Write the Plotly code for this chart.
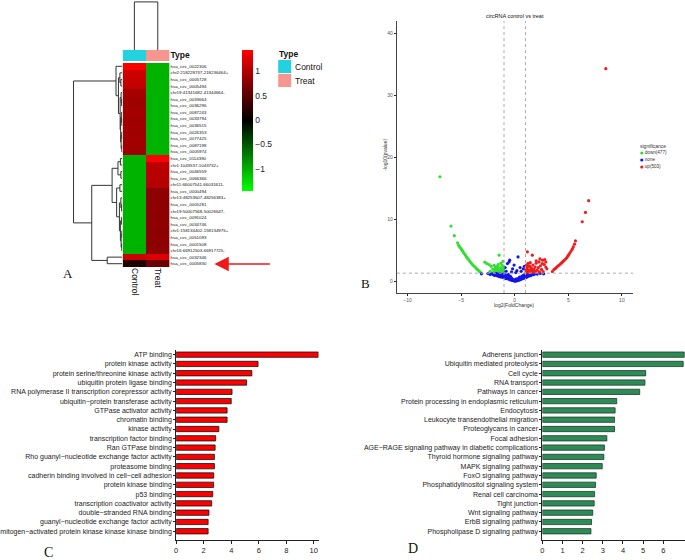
import math
import plotly.graph_objects as go

W, H = 685, 560
def fx(p): return p / W
def fy(p): return 1 - p / H

FONT = "Liberation Sans"
SERIF = "Liberation Serif"

# ---------------- Panel A data ----------------
heat_labels = [
    "hsa_circ_0022306", "chr2:218228737-218236464+", "hsa_circ_0005728", "hsa_circ_0005494",
    "chr19:41341682-41344664-", "hsa_circ_0033664", "hsa_circ_0036296", "hsa_circ_0087243",
    "hsa_circ_0033794", "hsa_circ_0036515", "hsa_circ_0026353", "hsa_circ_0077425",
    "hsa_circ_0087198", "hsa_circ_0005974", "hsa_circ_0114390", "chr1:1043537-1043732+",
    "hsa_circ_0046559", "hsa_circ_0066366", "chr11:66007541-66031611-", "hsa_circ_0000494",
    "chr13:48253607-48256383+", "hsa_circ_0005281", "chr19:50007568-50026647-", "hsa_circ_0091024",
    "hsa_circ_0034746", "chr1:158134402-158134975+", "hsa_circ_0051093", "hsa_circ_0001508",
    "chr16:66912503-66917725-", "hsa_circ_0032346", "hsa_circ_0005830",
]
heat_control = [1.40, 1.14, 1.12, 1.08, 0.92, 0.90, 0.88, 0.92, 0.88, 0.90, 0.89, 0.92, 0.88, 0.90,
                -1.02, -1.02, -1.02, -1.02, -1.02, -1.02, -1.02, -1.02, -1.02, -1.02, -1.02, -1.02,
                -1.02, -1.02, -1.02, 1.14, 0.18]
heat_treat = [-1.02, -1.02, -1.02, -1.02, -1.02, -1.02, -1.02, -1.02, -1.02, -1.02, -1.02, -1.02,
              -1.02, -1.02, 1.43, 1.05, 1.03, 1.03, 1.00, 0.80, 0.80, 0.78, 0.80, 0.78, 0.80, 0.78,
              0.80, 0.78, 0.80, 1.24, 0.60]
heat_columns = ["Control", "Treat"]
type_colors = ["#22D3DF", "#F7968E"]
col_merge_height = 1.0
# row dendrogram: (height, left, right); leaves are row numbers
row_tree = (10.0,
            (1.3, 1, (0.8, (0.5, 2, (0.3, 3, 4)),
                      (0.45, (0.25, 5, (0.15, 6, 7)),
                       (0.35, (0.2, 8, (0.1, 9, 10)), (0.25, (0.12, 11, 12), (0.1, 13, 14)))))),
            (6.27,
             (2.1, (0.9, (0.4, 15, 16), (0.3, 17, 18)),
              (1.17, (0.5, 19, 20),
               (0.6, (0.3, 21, (0.15, 22, 23)),
                (0.4, (0.2, 24, 25), (0.25, (0.1, 26, 27), (0.12, 28, 29)))))),
             (3.1, 30, 31)))

# ---------------- Panel B data ----------------
down_x = [-6.98, -5.95, -5.64, -5.33, -5.24, -5.12, -5.02, -4.95, -4.87, -4.79, -4.71, -4.60, -4.50,
          -4.41, -4.31, -4.20, -4.09, -3.98, -3.88, -3.75, -3.63, -3.52, -3.41, -3.28, -3.16,
          -2.79, -2.60, -2.39, -2.20, -1.92, -1.46, -1.61, -1.75, -1.85, -2.05, -1.50, -1.35, -1.20,
          -1.10, -1.25, -1.40, -1.60, -1.05, -1.15, -1.30, -1.70, -1.95, -2.30, -1.55, -1.05, -1.45,
          -1.20, -1.80, -2.10, -1.12, -1.38, -1.65, -1.02]
down_y = [16.86, 8.90, 7.35, 6.20, 5.80, 5.50, 5.28, 5.05, 4.90, 4.68, 4.47, 4.20, 3.93,
          3.72, 3.50, 3.25, 3.00, 2.78, 2.58, 2.36, 2.15, 1.96, 1.78, 1.58, 1.40,
          3.07, 2.85, 2.70, 2.40, 2.58, 4.20, 2.40, 2.10, 1.80, 1.95, 1.90, 2.20, 2.60,
          3.20, 1.70, 1.50, 1.45, 1.90, 1.40, 2.90, 1.60, 1.45, 1.60, 2.70, 2.40, 1.35,
          2.00, 2.30, 1.35, 1.55, 1.75, 2.05, 1.62]
none_x = [-3.10, -2.50, -2.30, -2.10, -2.00, -1.90, -1.80, -1.70, -1.65, -1.55, -1.50, -1.45, -1.40,
          -1.35, -1.30, -1.25, -1.20, -1.15, -1.10, -1.05, -1.00, -0.95, -0.90, -0.85, -0.80, -0.75,
          -0.70, -0.65, -0.60, -0.55, -0.50, -0.45, -0.40, -0.35, -0.30, -0.25, -0.20, -0.15, -0.10,
          -0.05, 0.00, 0.05, 0.10, 0.15, 0.20, 0.25, 0.30, 0.35, 0.40, 0.45, 0.50, 0.55, 0.60, 0.65,
          0.70, 0.75, 0.80, 0.85, 0.90, 0.95, 1.00, 1.05, 1.10, 1.15, 1.20, 1.30, 1.40, 1.50, 1.60,
          1.75, 1.90, 2.10, 2.40, 2.70, -0.90, -0.68, -0.53, -0.47, -0.06, 0.31, 0.20, -0.30, 0.60,
          0.80, -0.80, 0.90, 0.50, -0.20, 0.10, -1.60, -1.20, -0.85, -0.55, -0.25, 0.05, 0.35, 0.65,
          0.95, 1.25, 1.55, -1.75, -1.00, 0.15, 0.45, 0.75, -0.35, -0.65, 1.35, 1.05]
none_y = [1.20, 1.25, 1.10, 1.20, 1.05, 0.95, 1.15, 0.90, 1.20, 0.85, 1.05, 0.75, 1.20,
          0.95, 0.70, 1.10, 0.80, 0.65, 1.00, 0.60, 1.20, 0.75, 0.50, 1.05, 0.45, 0.85,
          0.40, 0.65, 1.10, 0.35, 0.55, 0.25, 0.80, 0.20, 0.45, 0.15, 0.30, 0.10, 0.20,
          0.05, 0.10, 0.02, 0.12, 0.05, 0.18, 0.10, 0.25, 0.15, 0.35, 0.20, 0.50, 0.30, 0.70, 0.35,
          0.55, 0.90, 0.45, 0.75, 1.10, 0.55, 0.80, 0.60, 1.00, 0.70, 1.20, 0.80, 1.00, 0.90, 1.15,
          1.05, 1.20, 1.15, 1.25, 1.20, 2.20, 2.85, 3.10, 3.40, 2.60, 3.93, 1.70, 1.50, 1.60,
          2.00, 1.60, 2.40, 2.20, 2.00, 1.40, 1.00, 1.05, 0.80, 0.60, 0.40, 0.25, 0.45, 0.55,
          0.85, 1.00, 1.10, 1.25, 0.90, 0.40, 0.65, 0.65, 0.60, 0.95, 1.05, 0.95]
up_x = [3.51, 3.66, 3.78, 3.88, 4.00, 4.12, 4.25, 4.37, 4.48, 4.59, 4.72, 4.84, 4.95, 5.05, 5.15,
        5.27, 5.38, 5.46, 5.58, 5.67, 6.30, 6.60, 6.90, 8.50,
        1.18, 1.64, 2.26, 2.57, 2.80, 2.75, 2.60, 2.40, 2.20, 2.00, 1.90, 1.80, 1.70, 1.60, 1.50,
        1.40, 1.30, 1.25, 1.15, 1.10, 1.05, 1.20, 1.35, 1.45, 1.55, 1.75, 1.95, 2.10, 2.30, 2.50,
        2.65, 2.90, 3.00, 1.10, 1.02, 1.25, 1.45, 2.00, 2.35, 2.90, 1.08, 1.30, 1.60, 1.15, 1.40]
up_y = [1.57, 1.89, 2.05, 2.21, 2.40, 2.58, 2.78, 2.96, 3.15, 3.34, 3.55, 3.77, 4.05, 4.30, 4.60,
        4.90, 5.20, 5.54, 5.98, 6.50, 9.60, 11.10, 13.00, 34.30,
        4.74, 4.20, 3.12, 2.85, 3.50, 2.70, 3.40, 2.50, 2.20, 2.90, 2.30, 1.90, 2.60, 1.70, 2.20,
        1.80, 2.50, 1.50, 2.00, 1.60, 1.40, 1.80, 1.40, 1.55, 1.90, 1.45, 1.60, 1.80, 1.50, 1.90,
        1.55, 2.30, 2.00, 2.60, 1.90, 2.90, 3.00, 3.30, 3.60, 3.10, 1.70, 1.65, 2.05, 2.25, 2.45]
volcano_groups = ["down(477)", "none", "up(503)"]
volcano_colors = ["#33DD33", "#1515E8", "#EE1C1C"]
fc_cutoff = 1.0
p_cutoff = 0.05

# ---------------- Panel C data ----------------
go_terms = ["ATP binding", "protein kinase activity", "protein serine/threonine kinase activity",
            "ubiquitin protein ligase binding", "RNA polymerase II transcription corepressor activity",
            "ubiquitin\u2212protein transferase activity", "GTPase activator activity", "chromatin binding",
            "kinase activity", "transcription factor binding", "Ran GTPase binding",
            "Rho guanyl\u2212nucleotide exchange factor activity", "proteasome binding",
            "cadherin binding involved in cell\u2212cell adhesion", "protein kinase binding", "p53 binding",
            "transcription coactivator activity", "double\u2212stranded RNA binding",
            "guanyl\u2212nucleotide exchange factor activity",
            "mitogen\u2212activated protein kinase kinase kinase binding"]
go_values = [10.33, 5.95, 5.50, 5.12, 4.06, 4.00, 3.70, 3.70, 3.10, 2.87, 2.83, 2.78, 2.78, 2.73,
             2.72, 2.66, 2.58, 2.38, 2.32, 2.32]

# ---------------- Panel D data ----------------
kegg_terms = ["Adherens junction", "Ubiquitin mediated proteolysis", "Cell cycle", "RNA transport",
              "Pathways in cancer", "Protein processing in endoplasmic reticulum", "Endocytosis",
              "Leukocyte transendothelial migration", "Proteoglycans in cancer", "Focal adhesion",
              "AGE\u2212RAGE signaling pathway in diabetic complications", "Thyroid hormone signaling pathway",
              "MAPK signaling pathway", "FoxO signaling pathway", "Phosphatidylinositol signaling system",
              "Renal cell carcinoma", "Tight junction", "Wnt signaling pathway", "ErbB signaling pathway",
              "Phospholipase D signaling pathway"]
kegg_values = [7.04, 6.99, 5.13, 5.09, 4.83, 3.69, 3.61, 3.58, 3.58, 3.20, 3.08, 3.05, 2.97, 2.67,
               2.64, 2.59, 2.57, 2.50, 2.44, 2.41]

fig = go.Figure()

# ---- A: heatmap ----
rows = list(range(1, len(heat_labels) + 1))
fig.add_trace(go.Heatmap(
    z=[[c, t] for c, t in zip(heat_control, heat_treat)], x=[0, 1], y=rows,
    colorscale=[[0, "#00FF00"], [0.5, "#000000"], [1, "#FF0000"]], zmin=-1.45, zmax=1.43,
    xaxis="x", yaxis="y", hoverinfo="skip",
    colorbar=dict(x=fx(241), xanchor="left", y=fy(120.5), yanchor="middle", len=141 / H,
                  lenmode="fraction", thickness=11, outlinewidth=0, xpad=0, ypad=0, ticks="",
                  tickvals=[-1, -0.5, 0, 0.5, 1], ticktext=["\u22121", "\u22120.5", "0", "0.5", "1"],
                  tickfont=dict(size=8.5, color="#222", family=FONT))))
fig.add_trace(go.Heatmap(
    z=[[0, 1]], x=[0, 1], y=[0], zmin=0, zmax=1, showscale=False, hoverinfo="skip",
    colorscale=[[0, type_colors[0]], [0.5, type_colors[0]], [0.5, type_colors[1]], [1, type_colors[1]]],
    xaxis="x2", yaxis="y2"))

# column dendrogram
fig.add_trace(go.Scatter(x=[0, 0, 1, 1], y=[0, col_merge_height, col_merge_height, 0], mode="lines",
                         line=dict(color="#333", width=1), xaxis="x3", yaxis="y3", hoverinfo="skip"))

# row dendrogram
dx, dy = [], []
def walk(node):
    if isinstance(node, int):
        return float(node), 0.0
    h, l, r = node
    yl, hl = walk(l)
    yr, hr = walk(r)
    dx.extend([hl, h, h, hr, None])
    dy.extend([yl, yl, yr, yr, None])
    return (yl + yr) / 2, h
walk(row_tree)
fig.add_trace(go.Scatter(x=dx, y=dy, mode="lines", line=dict(color="#333", width=1),
                         xaxis="x4", yaxis="y4", hoverinfo="skip"))

# ---- B: volcano ----
for gx, gy, col in [(down_x, down_y, volcano_colors[0]), (none_x, none_y, volcano_colors[1]),
                    (up_x, up_y, volcano_colors[2])]:
    fig.add_trace(go.Scatter(x=gx, y=gy, mode="markers", marker=dict(size=3.2, color=col),
                             xaxis="x5", yaxis="y5", hoverinfo="skip"))
fig.add_trace(go.Scatter(x=[0.08, 0.08, 0.08], y=[0, 1, 2], mode="markers+text",
                         marker=dict(size=3.2, color=volcano_colors), text=volcano_groups,
                         textposition="middle right", textfont=dict(size=4.6, color="#333"),
                         xaxis="x8", yaxis="y8", hoverinfo="skip"))

# ---- C & D bars ----
idx = list(range(len(go_terms)))
fig.add_trace(go.Bar(x=go_values, y=idx, orientation="h", width=0.57,
                     marker=dict(color="#FF0000", line=dict(color="#111", width=0.8)),
                     xaxis="x6", yaxis="y6", hoverinfo="skip"))
fig.add_trace(go.Bar(x=kegg_values, y=list(range(len(kegg_terms))), orientation="h", width=0.57,
                     marker=dict(color="#2E8B57", line=dict(color="#1A3D2A", width=0.8)),
                     xaxis="x7", yaxis="y7", hoverinfo="skip"))

hidden = dict(visible=False, showgrid=False, zeroline=False)
hm_x = [fx(121), fx(168)]
hm_y = [fy(267), fy(63)]
axis_common = dict(showgrid=False, zeroline=False, showline=True, linewidth=1,
                   ticks="outside", tickcolor="#222")

fig.update_layout(
    width=W, height=H, margin=dict(l=0, r=0, t=0, b=0), paper_bgcolor="white", plot_bgcolor="white",
    showlegend=False, font=dict(family=FONT, color="#222"),
    xaxis=dict(domain=hm_x, range=[-0.5, 1.5], anchor="y", tickvals=[0, 1], ticktext=heat_columns,
               tickangle=90, ticks="", showgrid=False, zeroline=False, tickfont=dict(size=8.5, color="#111")),
    yaxis=dict(domain=hm_y, range=[31.5, 0.5], anchor="x", side="right", tickvals=rows,
               ticktext=heat_labels, ticks="", showgrid=False, zeroline=False,
               tickfont=dict(size=4.4, color="#111")),
    xaxis2=dict(domain=hm_x, range=[-0.5, 1.5], anchor="y2", **hidden),
    yaxis2=dict(domain=[fy(61), fy(50)], range=[-0.5, 0.5], anchor="x2", side="right", tickvals=[0],
                ticktext=["<b>Type</b>"], ticks="", showgrid=False, zeroline=False,
                tickfont=dict(size=8.5, color="#111")),
    xaxis3=dict(domain=hm_x, range=[-0.5, 1.5], anchor="y3", **hidden),
    yaxis3=dict(domain=[fy(50), fy(0)], range=[0, 1.04], anchor="x3", **hidden),
    xaxis4=dict(domain=[fx(60), fx(120.7)], range=[12.4, 0], anchor="y4", **hidden),
    yaxis4=dict(domain=hm_y, range=[31.5, 0.5], anchor="x4", **hidden),
    xaxis5=dict(domain=[fx(396), fx(633)], range=[-11, 11.05], anchor="y5", tickvals=[-10, -5, 0, 5, 10],
                ticklen=2, tickfont=dict(size=5, color="#555"), linecolor="#444", **axis_common),
    yaxis5=dict(domain=[fy(293), fy(21)], range=[-1.9, 42], anchor="x5", tickvals=[0, 10, 20, 30, 40],
                ticklen=2, tickfont=dict(size=5, color="#555"), linecolor="#444", **axis_common),
    xaxis8=dict(domain=[fx(638), fx(684)], range=[0, 1], anchor="y8", **hidden),
    yaxis8=dict(domain=[fy(170.5), fy(149.5)], range=[2.5, -0.5], anchor="x8", **hidden),
    xaxis6=dict(domain=[fx(174.7), fx(317.5)], range=[0, 10.35], anchor="y6", tickvals=[0, 2, 4, 6, 8, 10],
                ticklen=3, tickfont=dict(size=7.5, color="#222"), linecolor="#222", **axis_common),
    yaxis6=dict(domain=[fy(540), fy(350)], range=[19.94, -0.5], anchor="x6", tickvals=idx, ticktext=go_terms,
                ticklen=2, tickfont=dict(size=7, color="#222"), linecolor="#222", **axis_common),
    xaxis7=dict(domain=[fx(542), 1.0], range=[0, 7.08], anchor="y7", tickvals=[0, 1, 2, 3, 4, 5, 6],
                ticklen=3, tickfont=dict(size=7.5, color="#222"), linecolor="#222", **axis_common),
    yaxis7=dict(domain=[fy(540), fy(350)], range=[19.94, -0.5], anchor="x7",
                tickvals=list(range(len(kegg_terms))), ticktext=kegg_terms,
                ticklen=2, tickfont=dict(size=7, color="#222"), linecolor="#222", **axis_common),
)

# volcano threshold lines
thr = -math.log10(p_cutoff)
dot = dict(color="#AAAAAA", width=1, dash="dot")
fig.add_shape(type="line", xref="x5", yref="y5 domain", x0=-fc_cutoff, x1=-fc_cutoff, y0=0, y1=1, line=dot)
fig.add_shape(type="line", xref="x5", yref="y5 domain", x0=fc_cutoff, x1=fc_cutoff, y0=0, y1=1, line=dot)
fig.add_shape(type="line", xref="x5 domain", yref="y5", x0=0, x1=1, y0=thr, y1=thr, line=dot)

# Type legend (panel A)
fig.add_shape(type="rect", xref="paper", yref="paper", x0=fx(277), x1=fx(290), y0=fy(73), y1=fy(60),
              fillcolor=type_colors[0], line=dict(width=0))
fig.add_shape(type="rect", xref="paper", yref="paper", x0=fx(277), x1=fx(290), y0=fy(87), y1=fy(74),
              fillcolor=type_colors[1], line=dict(width=0))

def ann(text, x, y, size, xanchor="left", family=FONT, color="#111", textangle=0):
    fig.add_annotation(text=text, x=fx(x), y=fy(y), xref="paper", yref="paper", showarrow=False,
                       xanchor=xanchor, yanchor="middle", textangle=textangle,
                       font=dict(size=size, family=family, color=color))

ann("<b>Type</b>", 276, 54, 8.5)
ann(heat_columns[0], 292, 66.5, 8.5)
ann(heat_columns[1], 292, 80.5, 8.5)
ann("circRNA control vs treat", 515, 16, 5.5, xanchor="center")
ann("log2(FoldChange)", 514, 305, 5, xanchor="center", color="#333")
ann("-log10(pvalue)", 384, 155, 5, xanchor="center", color="#333", textangle=-90)
ann("significance", 638, 146, 5, color="#333")
ann("A", 66, 273, 13, xanchor="center", family=SERIF)
ann("B", 365, 283, 13, xanchor="center", family=SERIF)
ann("C", 47, 552, 14, xanchor="center", family=SERIF)
ann("D", 412, 548, 14, xanchor="center", family=SERIF)

# red arrow pointing at hsa_circ_0005830
fig.add_annotation(x=fx(213), y=fy(264), ax=57, ay=0, xref="paper", yref="paper",
                   axref="pixel", ayref="pixel", showarrow=True, arrowhead=2, arrowsize=1.8,
                   arrowwidth=1.6, arrowcolor="#F01818", text="")

fig.write_html("out.html", config={"displayModeBar": False},
               post_script="document.body.style.margin='0';document.body.style.overflow='hidden';")
